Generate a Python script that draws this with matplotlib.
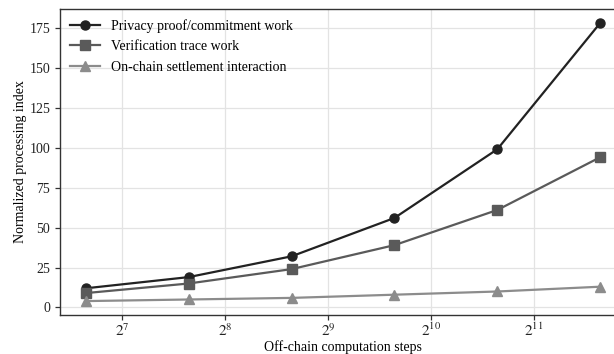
import numpy as np
import matplotlib
matplotlib.use("Agg")
import matplotlib.pyplot as plt

# off-chain computation steps and normalized processing index per component
steps = [100, 200, 400, 800, 1600, 3200]
privacy_work = [12, 19, 32, 56, 99, 178]
verification_work = [9, 15, 24, 39, 61, 94]
settlement_work = [4, 5, 6, 8, 10, 13]

labels = [
    "Privacy proof/commitment work",
    "Verification trace work",
    "On-chain settlement interaction",
]
xticks = [2 ** 7, 2 ** 8, 2 ** 9, 2 ** 10, 2 ** 11]
xtick_labels = [r"$2^{7}$", r"$2^{8}$", r"$2^{9}$", r"$2^{10}$", r"$2^{11}$"]

plt.rcParams["font.family"] = ["Liberation Serif", "DejaVu Serif"]
plt.rcParams["mathtext.fontset"] = "stix"
plt.rcParams["font.size"] = 10

fig = plt.figure(figsize=(6.14, 3.54), dpi=100)
ax = fig.add_axes([60 / 614, 1 - 315 / 354, 566 / 614, 306 / 354])

ax.plot(steps, privacy_work, color="#222222", marker="o", markersize=6.5,
        linewidth=1.6, label=labels[0], zorder=3)
ax.plot(steps, verification_work, color="#5a5a5a", marker="s", markersize=6.5,
        linewidth=1.6, label=labels[1], zorder=3)
ax.plot(steps, settlement_work, color="#8c8c8c", marker="^", markersize=6.5,
        linewidth=1.6, label=labels[2], zorder=3)

ax.set_xscale("log", base=2)
ax.set_xticks(xticks)
ax.set_xticklabels(xtick_labels, fontsize=11)
ax.minorticks_off()
ax.set_yticks([0, 25, 50, 75, 100, 125, 150, 175])

ax.grid(True, color="#e3e3e3", linewidth=0.9)
ax.set_axisbelow(True)
for side in ["left", "bottom", "top"]:
    ax.spines[side].set_color("#333333")
    ax.spines[side].set_linewidth(1.0)
ax.spines["right"].set_visible(False)
ax.tick_params(colors="#333333", length=3.5, width=0.9)
ax.tick_params(labelcolor="#222222")
ax.tick_params(axis="x", pad=1.5)

ax.set_xlabel("Off-chain computation steps", labelpad=1)
ax.set_ylabel("Normalized processing index", labelpad=2)

ax.legend(loc="upper left", frameon=False, handlelength=2.2,
          borderaxespad=0.3, labelspacing=0.55)

fig.savefig("out.png", dpi=100)
